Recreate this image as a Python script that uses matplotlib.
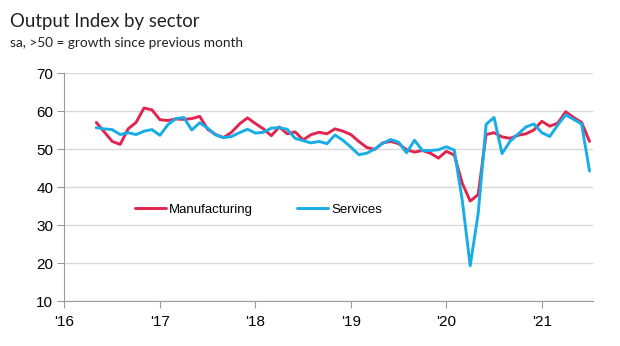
import matplotlib.pyplot as plt
import numpy as np

# monthly index values, May 2016 .. Jul 2021
manufacturing = [57.0, 54.5, 52.0, 51.2, 55.3, 57.0, 60.8, 60.3,
                 57.7, 57.5, 57.9, 57.8, 58.0, 58.6, 55.2, 53.8, 53.0, 54.4, 56.6, 58.2,
                 56.7, 55.3, 53.5, 55.8, 54.0, 54.5, 52.4, 53.8, 54.4, 54.0, 55.3, 54.7,
                 53.8, 52.0, 50.4, 49.9, 51.6, 52.0, 51.4, 49.8, 49.2, 49.6, 48.9, 47.6,
                 49.4, 48.4, 41.0, 36.3, 38.0, 53.8, 54.3, 53.2, 52.8, 53.6, 54.0, 55.0,
                 57.3, 56.0, 56.8, 59.8, 58.3, 57.0, 52.0]
services = [55.6, 55.3, 55.1, 53.8, 54.3, 53.8, 54.7, 55.1,
            53.6, 56.4, 58.0, 58.3, 55.0, 56.9, 55.5, 53.7, 53.0, 53.3, 54.3, 55.2,
            54.2, 54.4, 55.5, 55.6, 55.2, 52.8, 52.2, 51.6, 52.0, 51.4, 53.7, 52.3,
            50.5, 48.5, 48.9, 50.0, 51.5, 52.5, 51.8, 49.0, 52.3, 49.6, 49.6, 49.8,
            50.6, 49.7, 36.5, 19.3, 33.0, 56.5, 58.3, 48.8, 52.0, 53.9, 55.8, 56.6,
            54.3, 53.3, 56.3, 59.0, 57.8, 56.6, 44.2]
year_labels = ["'16", "'17", "'18", "'19", "'20", "'21"]

months = np.arange(4, 4 + len(manufacturing))  # months since Jan 2016

fig = plt.figure(figsize=(6.2, 3.46), dpi=100)
ax = fig.add_axes([0.104, 0.130, 0.852, 0.659])

ax.plot(months, manufacturing, color='#e2254f', lw=2.1, label='Manufacturing',
        solid_joinstyle='round', solid_capstyle='round')
ax.plot(months, services, color='#17ade6', lw=2.1, label='Services',
        solid_joinstyle='round', solid_capstyle='round')

ax.set_xlim(0, 66.4)
ax.set_ylim(10, 70)
ax.set_yticks(range(10, 71, 10))
ax.set_xticks(range(0, 61, 12))
ax.set_xticklabels(year_labels)
ax.grid(axis='y', color='#d9d9d9', lw=1)
ax.set_axisbelow(True)
for s in ['top', 'right']:
    ax.spines[s].set_visible(False)
for s in ['left', 'bottom']:
    ax.spines[s].set_color('#9a9a9a')
ax.tick_params(axis='both', colors='#9a9a9a', length=5, labelcolor='black',
               labelsize=11, pad=3)
ax.tick_params(axis='x', pad=5)
for t in ax.get_xticklabels() + ax.get_yticklabels():
    t.set_family('Liberation Sans')

ax.legend(loc='center', bbox_to_anchor=(0.367, 0.40), ncol=2, frameon=False,
          handlelength=2.4, handletextpad=0.2, columnspacing=3.3,
          prop={'family': 'Liberation Sans', 'size': 9.5})

fig.text(0.016, 1 - 27 / 346, 'Output Index by sector', family='Lato',
         fontsize=13.4, va='baseline', color='#222222')
fig.text(0.016, 1 - 47 / 346, 'sa, >50 = growth since previous month',
         family='Lato', fontsize=9.8, va='baseline', color='#222222')

fig.savefig('out.png', dpi=100)
